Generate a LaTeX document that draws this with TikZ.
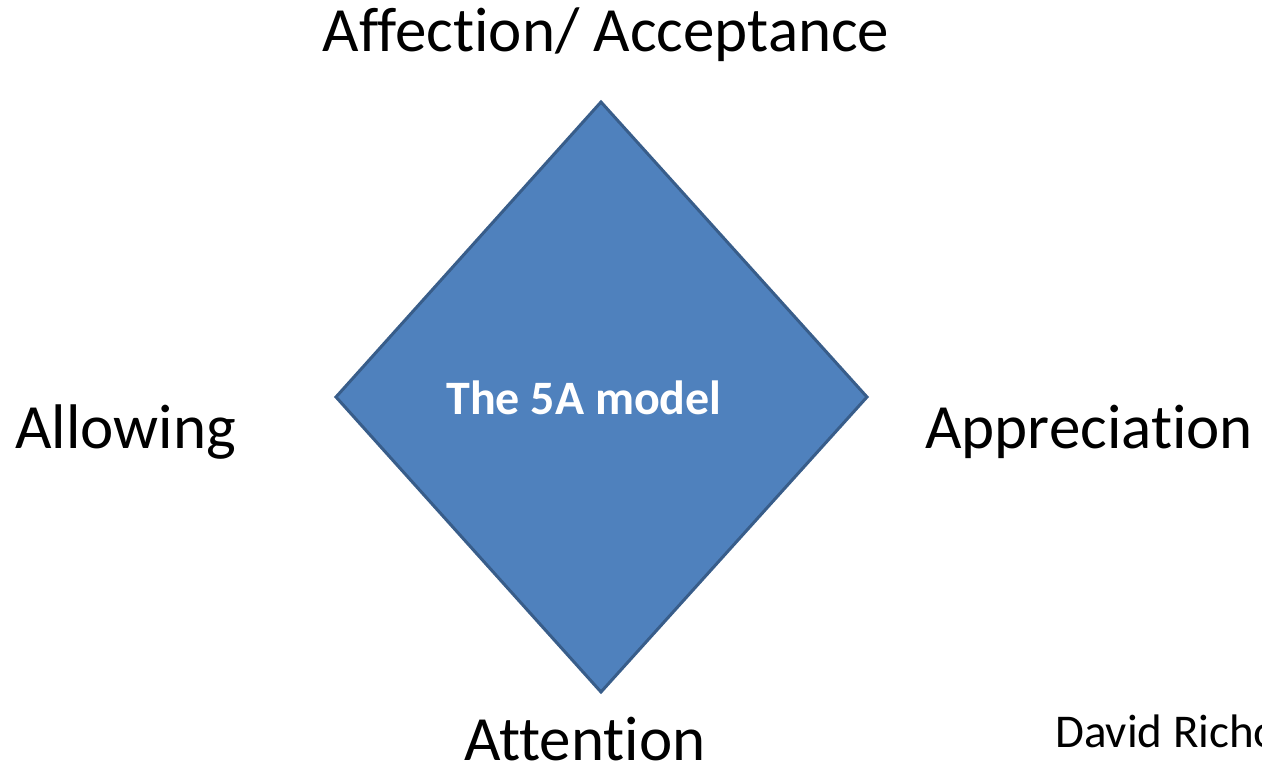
\documentclass[tikz,border=0pt]{standalone}
\usepackage{fontspec}
\setmainfont[Ligatures={NoCommon}]{Carlito}
\definecolor{dfill}{RGB}{79,129,189}
\definecolor{dline}{RGB}{56,93,138}
\tikzset{
  lbl/.style={inner sep=0pt, font=\fontsize{63}{70}\selectfont, text=black},
  small/.style={inner sep=0pt, font=\fontsize{47}{54}\selectfont, text=black},
  center/.style={inner sep=0pt, font=\fontsize{48}{54}\selectfont\bfseries, text=white},
  shapeline/.style={fill=dfill, draw=dline, line width=3pt, line join=miter}
}
\begin{document}
\begin{tikzpicture}[x=1pt,y=-1pt]
\useasboundingbox (0,0) rectangle (1262,767);
\coordinate (t) at (601,102);
\coordinate (r) at (867,397);
\coordinate (b) at (601,692);
\coordinate (l) at (336,397);
\draw[shapeline] (t) -- (r) -- (b) -- (l) -- cycle;
\node[center, anchor=base] (model) at (584,414) {The 5A model};
\node[lbl, anchor=base] (aff) at (606,52) {Affection/ Acceptance};
\node[lbl, anchor=base west] (allow) at (15,448) {Allowing};
\node[lbl, anchor=base west] (appr) at (925,448) {Appreciation};
\node[lbl, anchor=base] (att) at (585,760) {Attention};
\node[small, anchor=base west] (david) at (1055,747) {David Richo};
\end{tikzpicture}
\end{document}
